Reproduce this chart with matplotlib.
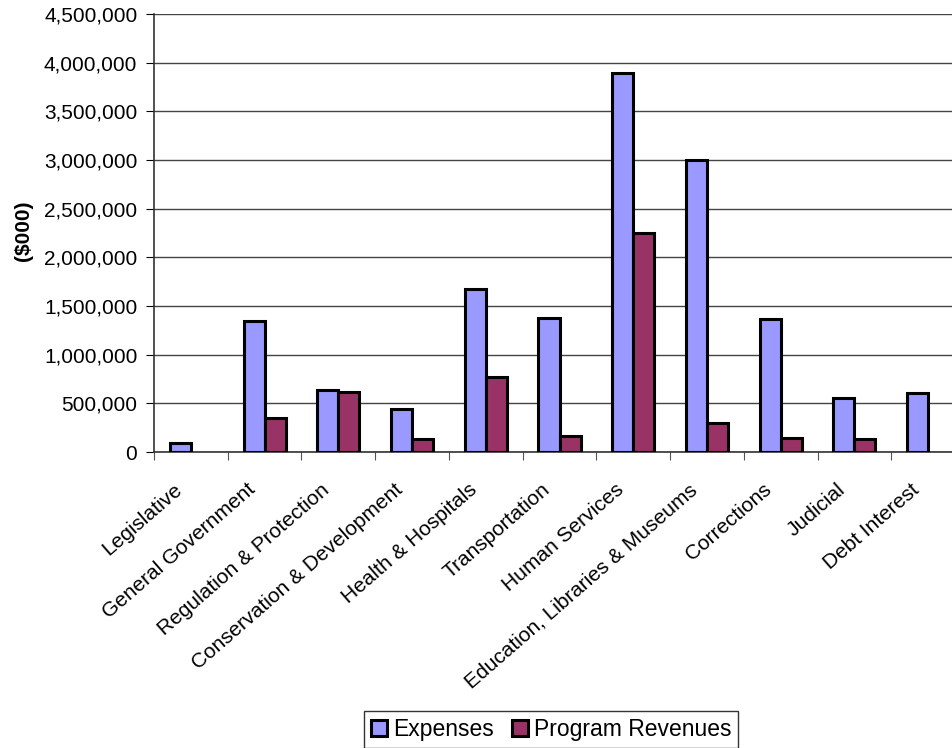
import matplotlib
matplotlib.use("Agg")
import matplotlib.pyplot as plt
import matplotlib.transforms as mtransforms
import numpy as np
from matplotlib.ticker import FuncFormatter

plt.rcParams['font.family'] = ['Liberation Sans', 'DejaVu Sans']

categories = ["Legislative", "General Government", "Regulation & Protection",
              "Conservation & Development", "Health & Hospitals", "Transportation",
              "Human Services", "Education, Libraries & Museums", "Corrections",
              "Judicial", "Debt Interest"]
expenses = [90000, 1350000, 640000, 445000, 1670000, 1375000, 3890000, 3005000,
            1365000, 550000, 605000]
revenues = [0, 350000, 612000, 138000, 775000, 160000, 2255000, 297000,
            140000, 133000, 0]
y_ticks = [0, 500000, 1000000, 1500000, 2000000, 2500000, 3000000, 3500000,
           4000000, 4500000]

fig = plt.figure(figsize=(9.52, 7.48), dpi=100)
ax = fig.add_axes([154/952, 296/748, 811/952, 438/748])

x = np.arange(len(categories))
w = 0.285
exp = np.array(expenses, dtype=float)
rev = np.array(revenues, dtype=float)
me = exp > 0
mr = rev > 0
ax.bar(x[me] - w/2, exp[me], w, color='#9999FF', edgecolor='black', linewidth=2.2,
       label='Expenses', zorder=3)
ax.bar(x[mr] + w/2, rev[mr], w, color='#993366', edgecolor='black', linewidth=2.2,
       label='Program Revenues', zorder=3)

ax.set_xlim(-0.5, len(categories) - 0.5)
ax.set_ylim(0, 4500000)
ax.set_yticks(y_ticks)
ax.yaxis.set_major_formatter(FuncFormatter(lambda v, p: f"{int(v):,}"))
ax.yaxis.grid(True, color='#444444', linewidth=1.0, zorder=0)
ax.set_axisbelow(True)

ax.set_xticks(np.arange(len(categories) + 1) - 0.5)
ax.set_xticklabels([])
ax.tick_params(axis='x', which='major', length=6, color='#555555', direction='out')
ax.tick_params(axis='y', length=6, direction='out', labelsize=15, pad=6)

# category labels placed at category centres (data x, axes y)
lab_tr = ax.get_xaxis_transform() + mtransforms.ScaledTranslation(
    -18/100, -28/100, fig.dpi_scale_trans)
for xi, name in zip(x, categories):
    ax.text(xi, 0, name, transform=lab_tr, rotation=41, ha='right', va='top',
            rotation_mode='anchor', fontsize=15, clip_on=False)

for s in ['top', 'right']:
    ax.spines[s].set_visible(False)
ax.spines['left'].set_color('#333333')
ax.spines['bottom'].set_color('#333333')
ax.spines['left'].set_linewidth(1.2)
ax.spines['bottom'].set_linewidth(1.2)

fig.text(23/952, 1 - 231/748, '($000)', rotation=90, fontsize=15, fontweight='bold',
         ha='center', va='center')

leg = fig.legend(loc='upper center', bbox_to_anchor=(551/952, 1 - 711/748), ncol=2,
                 fontsize=16.5, frameon=True, fancybox=False, edgecolor='black',
                 handlelength=0.7, handleheight=0.7, handletextpad=0.25,
                 columnspacing=0.8, borderpad=0.3, borderaxespad=0)
leg.get_frame().set_linewidth(1.0)

fig.savefig('out.png', dpi=100)
